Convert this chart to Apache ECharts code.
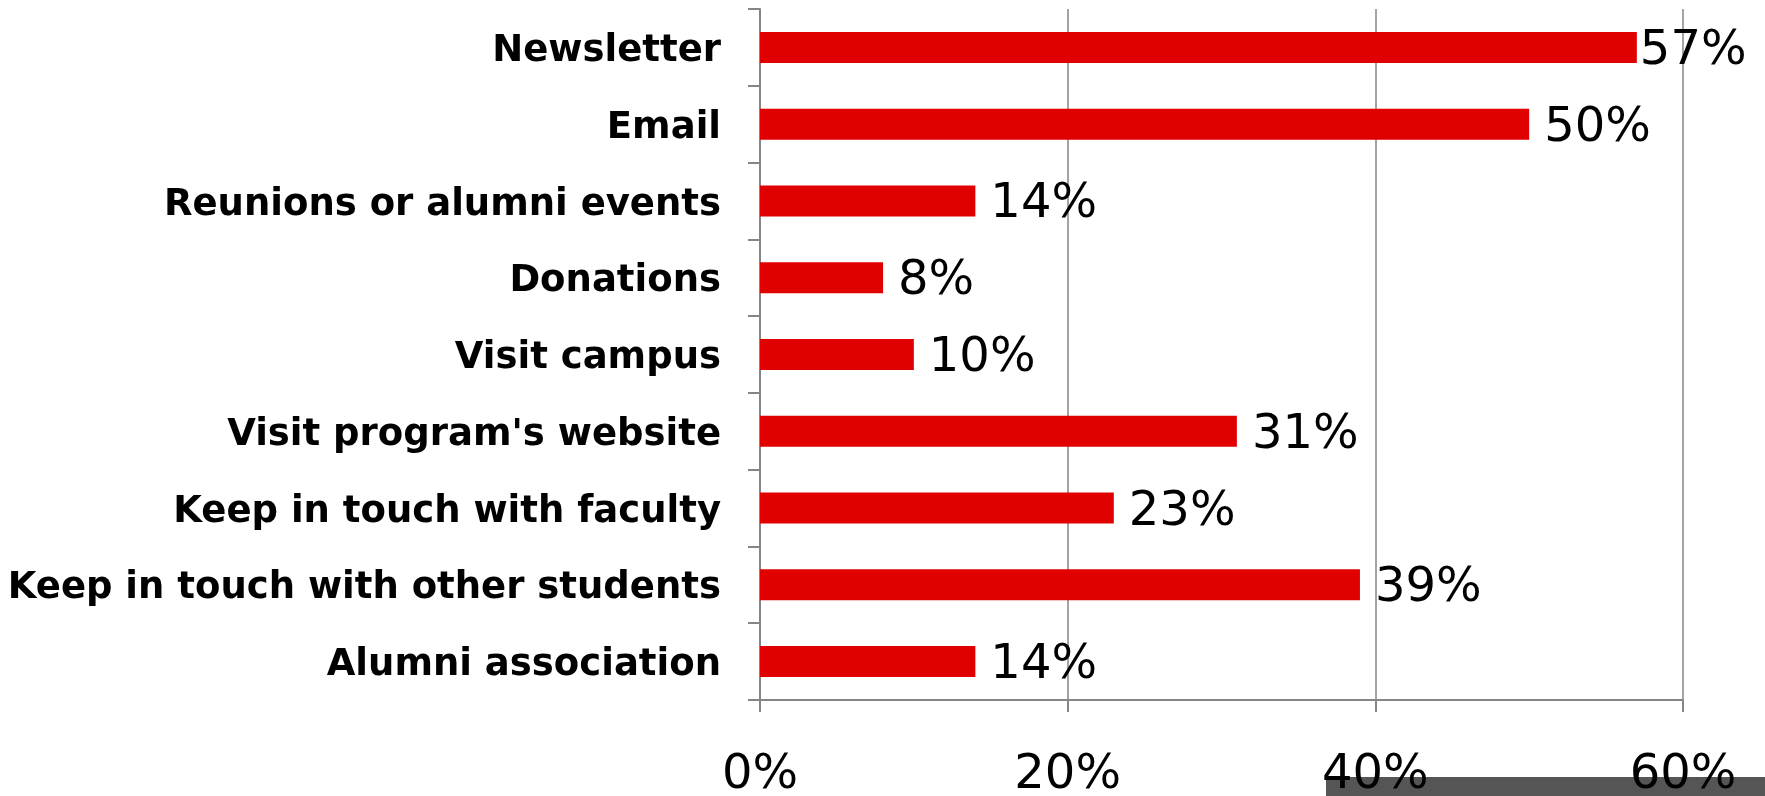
<!DOCTYPE html>
<html>
<head>
<meta charset="utf-8">
<script src="https://cdn.jsdelivr.net/npm/echarts@6/dist/echarts.min.js"></script>
<style>
html,body{margin:0;padding:0;background:#fff;}
#main{width:1765px;height:796px;}
</style>
</head>
<body>
<div id="main"></div>
<script>
const categories = ["Newsletter","Email","Reunions or alumni events","Donations","Visit campus","Visit program's website","Keep in touch with faculty","Keep in touch with other students","Alumni association"];
const values = [57,50,14,8,10,31,23,39,14];
const xTicks = [0,20,40,60];

const seriesData = values.map((v,i)=> i===0 ? {value:v,label:{distance:3}} : v);

const chart = echarts.init(document.getElementById('main'));
chart.setOption({
  animation:false,
  backgroundColor:'#ffffff',
  grid:{left:760,right:82,top:9,bottom:96,containLabel:false,outerBoundsMode:'none'},
  xAxis:{
    type:'value',min:xTicks[0],max:xTicks[xTicks.length-1],interval:20,
    axisLine:{show:true,lineStyle:{color:'#868686',width:2}},
    axisTick:{show:true,length:12,lineStyle:{color:'#868686',width:2}},
    splitLine:{show:true,lineStyle:{color:'#868686',width:1.5}},
    axisLabel:{formatter:'{value}%',fontFamily:'DejaVu Sans',fontSize:48,color:'#000',margin:52}
  },
  yAxis:{
    type:'category',data:categories,inverse:true,
    axisLine:{show:true,lineStyle:{color:'#868686',width:2}},
    axisTick:{show:true,length:12,alignWithLabel:false,lineStyle:{color:'#868686',width:2}},
    axisLabel:{fontFamily:'DejaVu Sans',fontWeight:'bold',fontSize:37,color:'#000',margin:39,verticalAlign:'top',lineHeight:8}
  },
  series:[{
    type:'bar',data:seriesData,barWidth:31,
    itemStyle:{color:'#E10000'},
    label:{show:true,position:'right',distance:15,offset:[0,4],formatter:'{c}%',fontFamily:'DejaVu Sans',fontSize:48,color:'#000'}
  }],
  graphic:[{type:'rect',left:1326,top:777,shape:{width:439,height:19},style:{fill:'#555555'},z:-1}]
});
</script>
</body>
</html>
